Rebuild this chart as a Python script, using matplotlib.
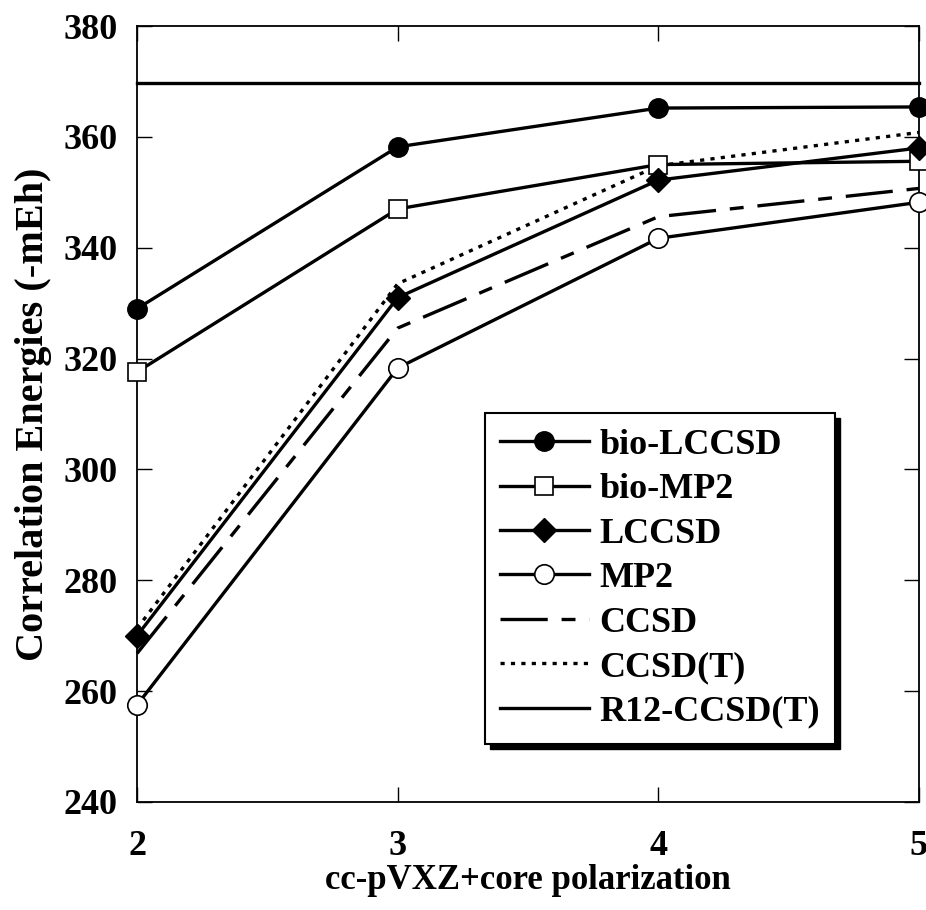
import matplotlib
matplotlib.use("Agg")
import matplotlib.pyplot as plt
from matplotlib.patches import Rectangle
from matplotlib.transforms import IdentityTransform

plt.rcParams['font.family'] = ['Liberation Serif', 'DejaVu Serif']
plt.rcParams['font.weight'] = 'bold'
plt.rcParams['lines.scale_dashes'] = False

basis = [2, 3, 4, 5]
bio_lccsd = [329.0, 358.2, 365.2, 365.4]
bio_mp2 = [317.6, 347.0, 355.0, 355.6]
lccsd = [270.0, 331.0, 352.2, 358.0]
mp2 = [257.5, 318.3, 341.7, 348.2]
ccsd = [266.8, 325.5, 345.6, 350.7]
ccsd_t = [271.3, 333.5, 354.8, 360.8]
r12_ccsd_t = [369.7, 369.7, 369.7, 369.7]

xticks = [2, 3, 4, 5]
yticks = [240, 260, 280, 300, 320, 340, 360, 380]

fig = plt.figure(figsize=(9.26, 9.10), dpi=100)
ax = fig.add_axes([0.148, 0.1187, 0.8444, 0.8527])

lw = 2.4
ms = 14
common = dict(color='black', lw=lw, clip_on=False)
ax.plot(basis, bio_lccsd, marker='o', ms=ms, mfc='black', mec='black', label='bio-LCCSD', zorder=5, **common)
ax.plot(basis, bio_mp2, marker='s', ms=ms - 1, mfc='white', mec='black', mew=1.2, label='bio-MP2', zorder=4, **common)
ax.plot(basis, lccsd, marker='D', ms=ms - 2, mfc='black', mec='black', label='LCCSD', zorder=6, **common)
ax.plot(basis, mp2, marker='o', ms=ms, mfc='white', mec='black', mew=1.2, label='MP2', zorder=5, **common)
ax.plot(basis, ccsd, dashes=(34, 10, 10, 10), label='CCSD', zorder=3, **common)
ax.plot(basis, ccsd_t, dashes=(3, 4.5), label='CCSD(T)', zorder=3, **common)
ax.plot(basis, r12_ccsd_t, label='R12-CCSD(T)', zorder=3, **common)

ax.set_xlim(2, 5)
ax.set_ylim(240, 380)
ax.set_xticks(xticks)
ax.set_yticks(yticks)
ax.tick_params(direction='in', length=11, width=1.0, top=True, right=True,
               labelsize=26, pad=14)
ax.tick_params(axis='x', pad=20)
for s in ax.spines.values():
    s.set_linewidth(1.3)

ax.set_xlabel('cc-pVXZ+core polarization', fontsize=25, fontweight='bold', labelpad=1)
ax.set_ylabel('Correlation Energies (-mEh)', fontsize=29, fontweight='bold', labelpad=8)

leg = ax.legend(loc='upper left', bbox_to_anchor=(0.445, 0.501), borderaxespad=0,
                fontsize=26, frameon=True, fancybox=False, edgecolor='black',
                framealpha=1, handlelength=2.45, handletextpad=0.3,
                labelspacing=0.31, borderpad=0.42)
leg.get_frame().set_linewidth(1.5)
leg.set_zorder(10)

fig.canvas.draw()
bb = leg.get_window_extent()
off = 5
shadow = Rectangle((bb.x0 + off, bb.y0 - off), bb.width, bb.height,
                   transform=IdentityTransform(), facecolor='black',
                   edgecolor='black', zorder=9, clip_on=False)
ax.add_patch(shadow)

fig.savefig('out.png', dpi=100)
